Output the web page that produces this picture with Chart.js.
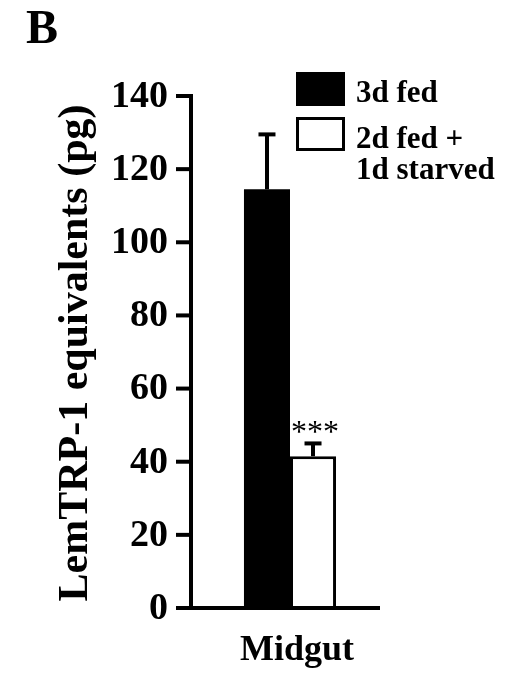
<!DOCTYPE html>
<html>
<head>
<meta charset="utf-8">
<script src="https://cdn.jsdelivr.net/npm/chart.js@4"></script>
<style>
  html, body { margin: 0; padding: 0; background: #fff; }
  #wrap { width: 519px; height: 678px; }
</style>
</head>
<body>
<div id="wrap"><canvas id="c" width="519" height="678"></canvas></div>
<script>
// ---- data ----
const categories = ['Midgut'];
const fedLabel = ['3d fed'];
const starvedLabel = ['2d fed +', '1d starved'];
const fedMeans = [114.5];
const fedErrors = [15];
const starvedMeans = [41.5];
const starvedErrors = [3.5];
const starvedMarks = ['***'];
const fedMarks = [''];
const yTicks = [0, 20, 40, 60, 80, 100, 120, 140];
const yTitle = 'LemTRP-1 equivalents (pg)';
const panelLetter = 'B';

const SERIF = '"Liberation Serif", "Times New Roman", serif';

const overlay = {
  id: 'overlay',
  afterDatasetsDraw(chart) {
    const ctx = chart.ctx;
    const y = chart.scales.y;
    const errs = [fedErrors, starvedErrors];
    const means = [fedMeans, starvedMeans];
    const marks = [fedMarks, starvedMarks];
    ctx.save();
    ctx.strokeStyle = '#000';
    ctx.fillStyle = '#000';
    chart.data.datasets.forEach((ds, di) => {
      const meta = chart.getDatasetMeta(di);
      meta.data.forEach((el, i) => {
        const topV = means[di][i] + errs[di][i];
        const yTop = y.getPixelForValue(topV);
        const yBar = y.getPixelForValue(means[di][i]);
        ctx.lineWidth = 4;
        ctx.beginPath();
        ctx.moveTo(el.x, yBar);
        ctx.lineTo(el.x, yTop);
        ctx.stroke();
        ctx.beginPath();
        ctx.moveTo(el.x - 8.5, yTop);
        ctx.lineTo(el.x + 8.5, yTop);
        ctx.stroke();
        if (marks[di][i]) {
          ctx.font = 'normal 32px ' + SERIF;
          ctx.textAlign = 'center';
          ctx.textBaseline = 'alphabetic';
          ctx.fillText(marks[di][i], el.x + 2, yTop - 1);
        }
      });
    });
    ctx.restore();
  },
  afterDraw(chart) {
    const ctx = chart.ctx;
    const y = chart.scales.y;
    const x = chart.scales.x;
    const area = chart.chartArea;
    const axisX = area.left;
    const axisY = y.getPixelForValue(0);
    ctx.save();
    ctx.strokeStyle = '#000';
    ctx.fillStyle = '#000';
    ctx.lineCap = 'butt';
    // y axis line
    ctx.lineWidth = 4;
    ctx.beginPath();
    ctx.moveTo(axisX, y.getPixelForValue(yTicks[yTicks.length - 1]) - 2);
    ctx.lineTo(axisX, axisY + 2);
    ctx.stroke();
    // ticks + labels
    ctx.font = 'bold 38px ' + SERIF;
    ctx.textAlign = 'right';
    ctx.textBaseline = 'middle';
    yTicks.forEach(t => {
      const py = y.getPixelForValue(t);
      ctx.beginPath();
      ctx.moveTo(axisX - 15, py);
      ctx.lineTo(axisX, py);
      ctx.stroke();
      ctx.fillText(String(t), axisX - 23, py + 1);
    });
    // x axis line
    ctx.beginPath();
    ctx.moveTo(axisX - 15, axisY);
    ctx.lineTo(380, axisY);
    ctx.stroke();
    // category label
    ctx.font = 'bold 36px ' + SERIF;
    ctx.textAlign = 'center';
    ctx.textBaseline = 'alphabetic';
    categories.forEach((c, i) => {
      ctx.fillText(c, x.getPixelForValue(i) + 7, 660);
    });
    // y title
    ctx.save();
    ctx.translate(87, 353);
    ctx.rotate(-Math.PI / 2);
    ctx.font = 'bold 42px ' + SERIF;
    ctx.textAlign = 'center';
    ctx.textBaseline = 'alphabetic';
    ctx.fillText(yTitle, 0, 0);
    ctx.restore();
    // panel letter
    ctx.font = 'bold 48px ' + SERIF;
    ctx.textAlign = 'left';
    ctx.fillText(panelLetter, 26, 43);
    // legend
    ctx.fillRect(296, 72, 49, 34);
    ctx.lineWidth = 3;
    ctx.strokeRect(297.5, 118.5, 46, 31);
    ctx.font = 'bold 31px ' + SERIF;
    ctx.textAlign = 'left';
    ctx.fillText(fedLabel[0], 356, 102);
    ctx.fillText(starvedLabel[0], 356, 148);
    ctx.fillText(starvedLabel[1], 356, 179);
    ctx.restore();
  }
};

new Chart(document.getElementById('c'), {
  type: 'bar',
  data: {
    labels: categories,
    datasets: [
      {
        label: fedLabel.join(' '),
        data: fedMeans,
        backgroundColor: '#000',
        borderColor: '#000',
        borderWidth: 0,
        categoryPercentage: 0.465,
        barPercentage: 1.0
      },
      {
        label: starvedLabel.join(' '),
        data: starvedMeans,
        backgroundColor: '#fff',
        borderColor: '#000',
        borderWidth: 3,
        borderSkipped: 'bottom',
        categoryPercentage: 0.465,
        barPercentage: 1.0
      }
    ]
  },
  options: {
    responsive: false,
    animation: false,
    layout: { padding: { left: 191, right: 130, top: 96, bottom: 70 } },
    plugins: { legend: { display: false }, tooltip: { enabled: false } },
    scales: {
      x: { display: false, type: 'category' },
      y: { display: false, min: 0, max: 140 }
    }
  },
  plugins: [overlay]
});
</script>
</body>
</html>
